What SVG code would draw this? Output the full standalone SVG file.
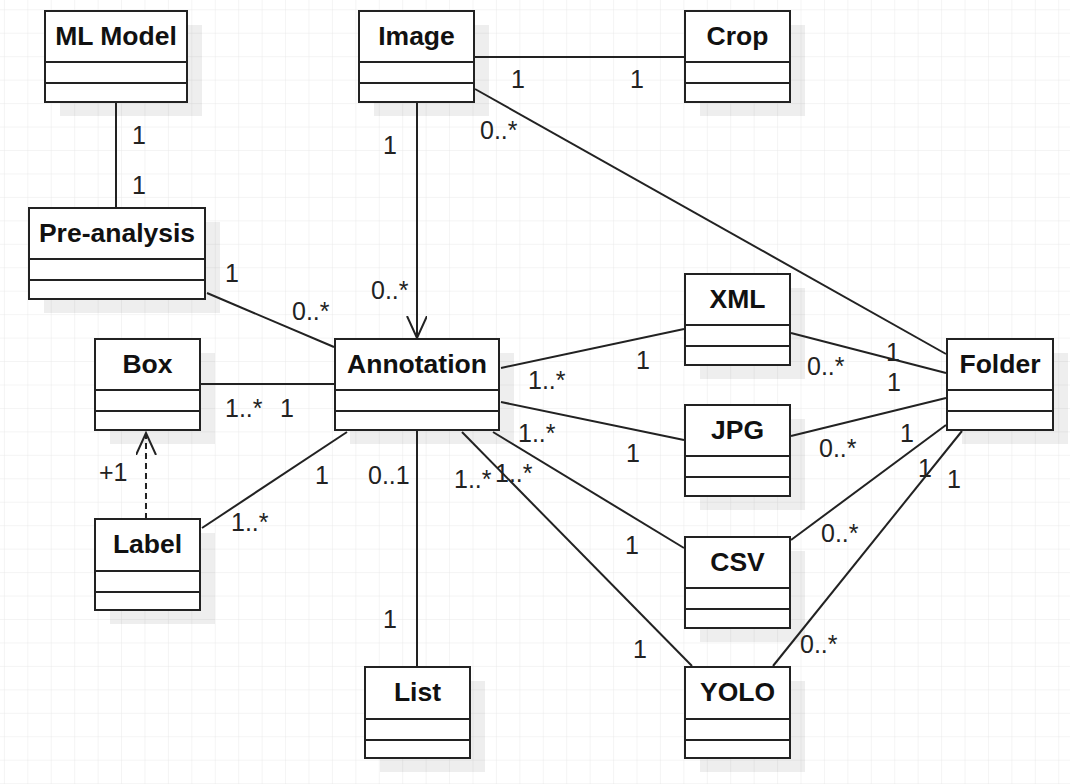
<svg xmlns="http://www.w3.org/2000/svg" width="1070" height="784" viewBox="0 0 1070 784">
  <defs>
    <pattern id="grid" patternUnits="userSpaceOnUse" x="3.9" y="9.3" width="23.43" height="23.45">
      <path d="M 0 0 H 23.43 M 0 0 V 23.45" fill="none" stroke="#e9e9e9" stroke-width="1"/>
    </pattern>
    <marker id="open" markerWidth="24" markerHeight="24" refX="22" refY="10" orient="auto" markerUnits="userSpaceOnUse">
      <path d="M 0 0 L 22 10 L 0 20" fill="none" stroke="#222" stroke-width="2"/>
    </marker>
    <style>
      .shadow { fill: #000; opacity: 0.065; }
      .frame { fill: #fff; stroke: #222; stroke-width: 2; }
      .div { stroke: #222; stroke-width: 2; }
      .title { font-family: "Liberation Sans", Arial, sans-serif; font-weight: bold; font-size: 26.5px; fill: #111; text-anchor: middle; }
      .link { fill: none; stroke: #222; stroke-width: 2; }
      .dash { stroke-dasharray: 6 4; }
      .mult { font-family: "Liberation Sans", Arial, sans-serif; font-size: 25px; fill: #222; }
    </style>
  </defs>

  <rect width="1070" height="784" fill="#fff"/>
  <rect width="1070" height="784" fill="url(#grid)"/>

  <!-- classes -->
  <g id="ml-model">
    <rect class="shadow" x="60" y="25" width="142" height="91"/>
    <rect class="frame" x="45" y="11" width="142" height="91"/>
    <path class="div" d="M45 62H187M45 83H187"/>
    <text class="title" x="116" y="45">ML Model</text>
  </g>
  <g id="image">
    <rect class="shadow" x="374" y="25" width="115" height="91"/>
    <rect class="frame" x="359" y="11" width="115" height="91"/>
    <path class="div" d="M359 62H474M359 83H474"/>
    <text class="title" x="416.5" y="45">Image</text>
  </g>
  <g id="crop">
    <rect class="shadow" x="700" y="25" width="105" height="91"/>
    <rect class="frame" x="685" y="11" width="105" height="91"/>
    <path class="div" d="M685 62H790M685 83H790"/>
    <text class="title" x="737.5" y="45">Crop</text>
  </g>
  <g id="pre-analysis">
    <rect class="shadow" x="44" y="222" width="176" height="91"/>
    <rect class="frame" x="29" y="208" width="176" height="91"/>
    <path class="div" d="M29 259H205M29 280H205"/>
    <text class="title" x="117" y="242">Pre-analysis</text>
  </g>
  <g id="box">
    <rect class="shadow" x="110" y="353" width="105" height="91"/>
    <rect class="frame" x="95" y="339" width="105" height="91"/>
    <path class="div" d="M95 390H200M95 411H200"/>
    <text class="title" x="147.5" y="373">Box</text>
  </g>
  <g id="annotation">
    <rect class="shadow" x="350" y="353" width="164" height="91"/>
    <rect class="frame" x="335" y="339" width="164" height="91"/>
    <path class="div" d="M335 390H499M335 411H499"/>
    <text class="title" x="417" y="373">Annotation</text>
  </g>
  <g id="xml">
    <rect class="shadow" x="700" y="288" width="105" height="91"/>
    <rect class="frame" x="685" y="274" width="105" height="91"/>
    <path class="div" d="M685 325H790M685 346H790"/>
    <text class="title" x="737.5" y="308">XML</text>
  </g>
  <g id="jpg">
    <rect class="shadow" x="700" y="419" width="105" height="91"/>
    <rect class="frame" x="685" y="405" width="105" height="91"/>
    <path class="div" d="M685 456H790M685 477H790"/>
    <text class="title" x="737.5" y="439">JPG</text>
  </g>
  <g id="folder">
    <rect class="shadow" x="962" y="353" width="106" height="91"/>
    <rect class="frame" x="947" y="339" width="106" height="91"/>
    <path class="div" d="M947 390H1053M947 411H1053"/>
    <text class="title" x="1000" y="373">Folder</text>
  </g>
  <g id="label">
    <rect class="shadow" x="110" y="533" width="105" height="91"/>
    <rect class="frame" x="95" y="519" width="105" height="91"/>
    <path class="div" d="M95 571H200M95 592H200"/>
    <text class="title" x="147.5" y="553">Label</text>
  </g>
  <g id="csv">
    <rect class="shadow" x="700" y="551" width="105" height="91"/>
    <rect class="frame" x="685" y="537" width="105" height="91"/>
    <path class="div" d="M685 588H790M685 609H790"/>
    <text class="title" x="737.5" y="571">CSV</text>
  </g>
  <g id="list">
    <rect class="shadow" x="380" y="681" width="105" height="91"/>
    <rect class="frame" x="365" y="667" width="105" height="91"/>
    <path class="div" d="M365 719H470M365 740H470"/>
    <text class="title" x="417.5" y="701">List</text>
  </g>
  <g id="yolo">
    <rect class="shadow" x="700" y="681" width="105" height="91"/>
    <rect class="frame" x="685" y="667" width="105" height="91"/>
    <path class="div" d="M685 719H790M685 740H790"/>
    <text class="title" x="737.5" y="701">YOLO</text>
  </g>

  <!-- associations and multiplicities -->
  <g id="connectors">
    <path class="link" d="M116 102V208"/>
    <path class="link" d="M474 57H685"/>
    <path class="link" d="M417 102V338" marker-end="url(#open)"/>
    <path class="link" d="M475 89L946 354"/>
    <path class="link" d="M207 293L334 347"/>
    <path class="link" d="M201 384H334"/>
    <path class="link dash" d="M146 519V433" marker-end="url(#open)"/>
    <path class="link" d="M202 528L347 432"/>
    <path class="link" d="M417 431V667"/>
    <path class="link" d="M501 368L684 329"/>
    <path class="link" d="M501 402L684 440"/>
    <path class="link" d="M493 432L684 548"/>
    <path class="link" d="M462 432L692 666"/>
    <path class="link" d="M791 333L946 373"/>
    <path class="link" d="M791 436L946 398"/>
    <path class="link" d="M791 540L946 425"/>
    <path class="link" d="M773 666L962 431"/>

    <text class="mult" x="132" y="144">1</text>
    <text class="mult" x="132" y="194">1</text>
    <text class="mult" x="511" y="88">1</text>
    <text class="mult" x="630" y="88">1</text>
    <text class="mult" x="383" y="154">1</text>
    <text class="mult" x="480" y="139">0..*</text>
    <text class="mult" x="371" y="299">0..*</text>
    <text class="mult" x="225" y="282">1</text>
    <text class="mult" x="292" y="320">0..*</text>
    <text class="mult" x="225" y="417">1..*</text>
    <text class="mult" x="280" y="417">1</text>
    <text class="mult" x="99" y="481">+1</text>
    <text class="mult" x="315" y="484">1</text>
    <text class="mult" x="231" y="531">1..*</text>
    <text class="mult" x="368" y="484">0..1</text>
    <text class="mult" x="383" y="628">1</text>
    <text class="mult" x="528" y="389">1..*</text>
    <text class="mult" x="636" y="369">1</text>
    <text class="mult" x="518" y="442">1..*</text>
    <text class="mult" x="626" y="462">1</text>
    <text class="mult" x="495" y="482">1..*</text>
    <text class="mult" x="625" y="554">1</text>
    <text class="mult" x="454" y="488">1..*</text>
    <text class="mult" x="633" y="658">1</text>
    <text class="mult" x="807" y="375">0..*</text>
    <text class="mult" x="886" y="361">1</text>
    <text class="mult" x="819" y="457">0..*</text>
    <text class="mult" x="887" y="391">1</text>
    <text class="mult" x="821" y="542">0..*</text>
    <text class="mult" x="900" y="442">1</text>
    <text class="mult" x="800" y="653">0..*</text>
    <text class="mult" x="918" y="477">1</text>
    <text class="mult" x="947" y="488">1</text>
  </g>
</svg>
